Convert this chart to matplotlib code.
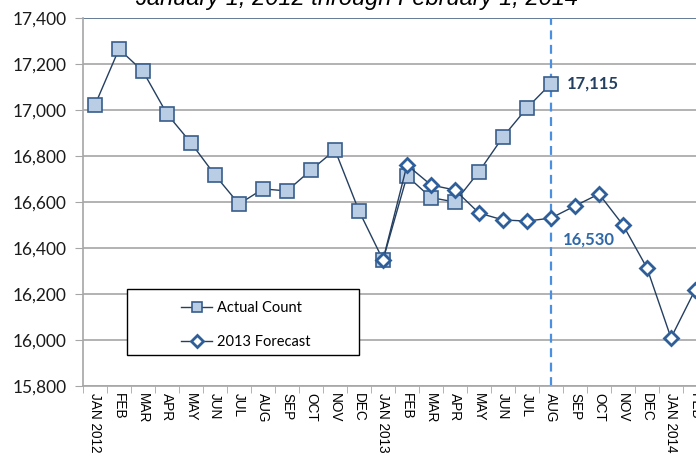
import numpy as np
import matplotlib.pyplot as plt
from matplotlib.patches import Rectangle

months = ['JAN 2012', 'FEB', 'MAR', 'APR', 'MAY', 'JUN', 'JUL', 'AUG', 'SEP', 'OCT', 'NOV', 'DEC',
          'JAN 2013', 'FEB', 'MAR', 'APR', 'MAY', 'JUN', 'JUL', 'AUG', 'SEP', 'OCT', 'NOV', 'DEC',
          'JAN 2014', 'FEB']

# actual count, JAN 2012 .. AUG 2013
actual = [17022, 17265, 17168, 16983, 16857, 16717, 16591, 16657, 16648, 16739, 16826, 16561,
          16348, 16713, 16619, 16600, 16732, 16883, 17009, 17115]

# 2013 forecast, JAN 2013 .. FEB 2014
forecast = [16348, 16761, 16674, 16652, 16552, 16522, 16517, 16530, 16583, 16635, 16500, 16313,
            16009, 16217]

yticks = np.arange(15800, 17401, 200)

x_act = np.arange(len(actual))
x_fc = np.arange(12, 12 + len(forecast))
cutoff = 19  # AUG 2013

fig = plt.figure(figsize=(6.96, 4.62), dpi=100)
ax = fig.add_axes([83 / 696, 76 / 462, 624 / 696, 368 / 462])

for y in yticks:
    ax.axhline(y, color='#a6a6a6' if y < 17400 else '#4a6384', lw=1.2, zorder=0)

ax.plot(x_act, actual, color='#243f60', lw=1, marker='s', ms=10.5,
        mfc='#b9cde5', mec='#385d8a', mew=1.2, label='Actual Count', zorder=3)
ax.plot(x_fc, forecast, color='#243f60', lw=1, marker='D', ms=7.5,
        mfc='white', mec='#2e5f9a', mew=2.0, label='2013 Forecast', zorder=4)

ax.axvline(cutoff, color='#4a8fe0', lw=1.6, ls=(0, (4, 2.5)), zorder=2)

ax.text(cutoff + 0.67, actual[cutoff], '17,115', fontsize=12, fontweight='bold',
        color='#243f60', va='center', ha='left', family='Lato')
ax.text(cutoff + 0.5, forecast[7] - 95, '16,530', fontsize=12, fontweight='bold',
        color='#2e68a8', va='center', ha='left', family='Lato')

ax.set_xlim(-0.5, 25.5)
ax.set_ylim(15800, 17400)
ax.set_yticks(yticks)
ax.set_yticklabels([f'{v:,}' for v in yticks], fontsize=12.5, family='Lato', color='#1a1a1a')
ax.set_xticks(np.arange(len(months)))
ax.set_xticklabels(months, rotation=270, fontsize=9.8, family='Liberation Sans',
                   va='top', ha='center')
ax.set_xticks(np.arange(-0.5, 25.6, 1), minor=True)
ax.tick_params(axis='x', which='major', length=0, pad=5)
ax.tick_params(axis='x', which='minor', length=5, color='#a6a6a6', direction='out')
ax.tick_params(axis='y', length=6, color='#a6a6a6', direction='out', pad=6)

for s in ['top', 'right']:
    ax.spines[s].set_visible(False)
ax.spines['left'].set_color('#a6a6a6')
ax.spines['bottom'].set_color('#a6a6a6')
ax.spines['left'].set_linewidth(1.2)
ax.spines['bottom'].set_linewidth(1.2)

# legend frame drawn separately so it can be wider than its entries
ax.add_patch(Rectangle((127 / 696, (462 - 355) / 462), 232 / 696, 66 / 462,
                       transform=fig.transFigure, facecolor='white',
                       edgecolor='black', lw=1.0, zorder=5, clip_on=False))
leg = ax.legend(loc='upper left', bbox_to_anchor=(181 / 696, (462 - 301) / 462),
                bbox_transform=fig.transFigure, frameon=False,
                prop={'family': 'Lato', 'size': 10.5}, handlelength=2.15,
                borderpad=0, labelspacing=1.35, borderaxespad=0, handletextpad=0.35)
leg.set_zorder(6)
for h in leg.legend_handles:
    h.set_markersize(6.5)

fig.text(357 / 696, (462 - 5) / 462, 'January 1, 2012 through February 1, 2014', fontsize=17,
         style='italic', family='Liberation Sans', ha='center', va='baseline')

fig.savefig('out.png', dpi=100)
